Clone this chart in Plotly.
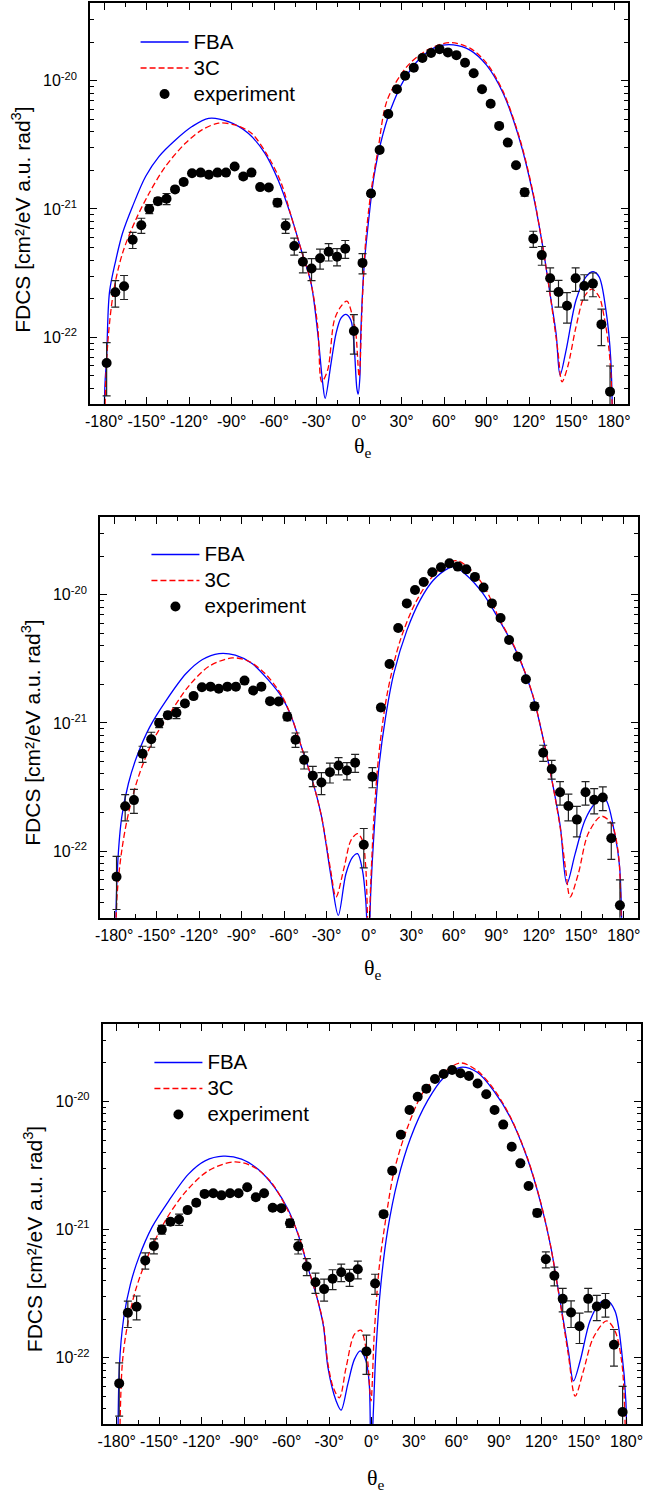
import plotly.graph_objects as go

# ---------------- experimental data (same in all three panels) ----------------
THETA_EXP = [-178.3, -172.2, -166.0, -159.9, -153.8, -148.2, -142.1, -136.0, -130.0, -123.9,
             -118.0, -111.9, -106.1, -100.0, -94.0, -87.9, -81.8, -76.0, -69.9, -63.8,
             -57.7, -51.9, -45.8, -39.7, -33.6, -27.6, -21.5, -15.6, -9.8, -3.7,
             2.4, 8.4, 14.5, 20.6, 26.7, 32.5, 38.6, 44.7, 50.8, 56.8,
             62.7, 68.7, 74.8, 80.9, 86.8, 92.9, 98.9, 105.0, 110.8, 116.9,
             123.0, 129.0, 134.9, 140.8, 146.8, 152.9, 159.0, 165.1, 171.1, 177.2]
FDCS_EXP = [6.3e-23, 2.24e-22, 2.5e-22, 5.75e-22, 7.46e-22, 1.0e-21, 1.15e-21, 1.2e-21, 1.42e-21, 1.62e-21,
            1.9e-21, 1.92e-21, 1.85e-21, 1.92e-21, 1.92e-21, 2.14e-21, 1.79e-21, 1.92e-21, 1.48e-21, 1.47e-21,
            1.12e-21, 7.4e-22, 5.15e-22, 3.88e-22, 3.43e-22, 4.13e-22, 4.65e-22, 4.25e-22, 4.9e-22, 1.12e-22,
            3.8e-22, 1.32e-21, 2.88e-21, 5.5e-21, 8.57e-21, 1.09e-20, 1.26e-20, 1.5e-20, 1.64e-20, 1.76e-20,
            1.66e-20, 1.58e-20, 1.38e-20, 1.14e-20, 8.57e-21, 6.6e-21, 4.44e-21, 3.29e-21, 2.19e-21, 1.35e-21,
            5.86e-22, 4.37e-22, 2.88e-22, 2.25e-22, 1.76e-22, 2.88e-22, 2.51e-22, 2.62e-22, 1.26e-22, 3.77e-23]
ERR_EXP = [2.8e-23, 5.2e-23, 5.3e-23, 8.3e-23, 1.0e-22, 8.0e-23, 7.0e-23, 1.2e-22, 7.0e-23, 8.0e-23,
           6.0e-23, 6.0e-23, 6.0e-23, 6.0e-23, 6.0e-23, 7.0e-23, 9.0e-23, 6.0e-23, 6.0e-23, 6.0e-23,
           8.0e-23, 9.5e-23, 7.8e-23, 7.0e-23, 6.7e-23, 7.3e-23, 7.2e-23, 6.5e-23, 7.8e-23, 3.8e-23,
           6.8e-23, 7.0e-23, 9.0e-23, 1.6e-22, 2.5e-22, 3.0e-22, 3.5e-22, 4.0e-22, 4.5e-22, 5.0e-22,
           4.5e-22, 4.5e-22, 4.0e-22, 3.2e-22, 2.5e-22, 1.9e-22, 1.3e-22, 1.0e-22, 7.0e-23, 9.0e-23,
           8.4e-23, 7.3e-23, 6.0e-23, 5.3e-23, 4.7e-23, 6.0e-23, 5.6e-23, 5.5e-23, 4.0e-23, 2.2e-23]

# ---------------- panel 1 theory ----------------
FBA1_THETA = [-180.6, -179.6, -178.3, -176.3, -171.8, -167.1, -160.1, -150.8, -141.4, -129.7,
              -118.0, -106.3, -92.3, -78.3, -66.6, -57.2, -47.9, -40.9, -33.9, -29.2,
              -25.7, -24.0, -19.8, -16.3, -12.8, -9.3, -5.8, -3.5, -1.6, -0.7,
              0.5, 1.2, 3.5, 7.0, 10.5, 15.2, 22.2, 31.6, 43.3, 55.0,
              66.6, 78.3, 90.0, 101.7, 113.4, 122.7, 129.7, 134.4, 139.1, 141.9,
              146.2, 153.2, 160.2, 165.3, 169.5, 174.2, 177.7, 180.2]
FBA1 = [1e-24, 4.0e-23, 7.0e-23, 2.24e-22, 4.0e-22, 6.46e-22, 1.04e-21, 1.79e-21, 2.56e-21, 3.45e-21,
        4.39e-21, 5.09e-21, 4.79e-21, 3.89e-21, 2.72e-21, 1.68e-21, 8.71e-22, 4.79e-22, 2.63e-22, 1.07e-22,
        4.37e-23, 3.34e-23, 6.3e-23, 1.07e-22, 1.41e-22, 1.51e-22, 1.36e-22, 8.5e-23, 4.0e-23, 3.6e-23,
        4.8e-23, 1.07e-22, 3.55e-22, 8.71e-22, 1.79e-21, 3.25e-21, 5.92e-21, 1.01e-20, 1.5e-20, 1.84e-20,
        1.9e-20, 1.73e-20, 1.32e-20, 7.98e-21, 3.45e-21, 1.32e-21, 5.08e-22, 2.34e-22, 1.07e-22, 5.08e-23,
        7.94e-23, 1.95e-22, 2.96e-22, 3.24e-22, 2.96e-22, 1.66e-22, 6.76e-23, 1e-24]
C3_1_THETA = [-180.3, -179.4, -177.5, -173.5, -167.1, -157.8, -148.4, -136.8, -122.7, -111.0,
              -99.3, -87.7, -76.0, -64.2, -54.9, -47.9, -40.9, -33.9, -29.2, -26.4,
              -22.2, -17.5, -12.8, -8.6, -4.6, -2.3, 0.0, 2.3, 4.7, 8.2,
              13.3, 19.9, 33.9, 48.0, 64.3, 78.3, 90.0, 101.7, 113.4, 122.7,
              129.7, 134.4, 140.3, 143.3, 147.3, 153.2, 159.0, 164.4, 169.5, 173.0,
              176.5, 178.6, 179.8]
C3_1 = [1e-24, 3.0e-23, 9.0e-23, 2.24e-22, 4.52e-22, 8.2e-22, 1.32e-21, 2.14e-21, 3.25e-21, 4.13e-21,
        4.66e-21, 4.52e-21, 3.89e-21, 2.56e-21, 1.58e-21, 8.71e-22, 4.79e-22, 2.63e-22, 1.2e-22, 4.5e-23,
        5.56e-23, 1.36e-22, 1.74e-22, 1.91e-22, 1.45e-22, 1.07e-22, 4.93e-23, 1.95e-22, 5.75e-22, 1.32e-21,
        2.88e-21, 7.08e-21, 1.29e-20, 1.73e-20, 1.98e-20, 1.79e-20, 1.37e-20, 8.22e-21, 3.55e-21, 1.36e-21,
        5.08e-22, 2.34e-22, 7.94e-23, 4.5e-23, 5.89e-23, 1.21e-22, 2.07e-22, 2.37e-22, 2.07e-22, 1.45e-22,
        7.94e-23, 3.2e-23, 1e-24]

# ---------------- panel 2 theory ----------------
FBA2_THETA = [-179.4, -178.5, -176.9, -174.6, -169.9, -164.1, -154.8, -143.2, -129.2, -117.6,
              -105.9, -94.4, -82.6, -71.0, -61.7, -54.7, -47.7, -40.7, -33.7, -26.8,
              -21.7, -16.3, -11.6, -8.1, -4.6, -2.3, -0.3, 1.2, 3.5, 7.0,
              11.7, 17.5, 26.8, 36.1, 45.4, 55.9, 60.0, 68.7, 80.3, 92.0,
              103.6, 115.2, 122.2, 129.2, 135.1, 139.7, 145.6, 152.5, 159.5, 166.5,
              173.5, 177.0, 179.5]
FBA2 = [1e-24, 4.0e-23, 1.01e-22, 1.85e-22, 3.37e-22, 5.42e-22, 9.31e-22, 1.5e-21, 2.43e-21, 3.13e-21,
        3.48e-21, 3.38e-21, 2.91e-21, 2.16e-21, 1.6e-21, 1.11e-21, 6.49e-22, 3.78e-22, 1.9e-22, 6.3e-23,
        3.15e-23, 6.65e-23, 8.97e-23, 9.55e-23, 7.08e-23, 4.12e-23, 1.5e-23, 4.68e-23, 1.37e-22, 4.53e-22,
        1.11e-21, 2.43e-21, 5.3e-21, 9.1e-21, 1.3e-20, 1.61e-20, 1.66e-20, 1.43e-20, 1.03e-20, 6.34e-21,
        3.7e-21, 1.7e-21, 8.26e-22, 3.56e-22, 1.55e-22, 5.56e-23, 9.55e-23, 1.74e-22, 2.34e-22, 2.57e-22,
        1.37e-22, 7.5e-23, 1e-24]
C3_2_THETA = [-179.5, -178.1, -174.6, -169.9, -162.9, -152.4, -140.8, -126.8, -112.9, -96.6,
              -85.0, -73.4, -61.7, -54.7, -47.7, -40.7, -33.7, -27.0, -23.3, -17.5,
              -12.8, -8.1, -4.6, -2.3, -0.4, 1.2, 3.5, 7.0, 12.9, 22.1,
              33.8, 47.8, 61.7, 73.3, 82.7, 92.0, 103.6, 115.2, 122.2, 129.2,
              135.1, 139.0, 142.0, 147.8, 154.8, 164.1, 171.1, 175.8, 178.1, 179.3]
C3_2 = [1e-24, 4.12e-23, 1.01e-22, 1.96e-22, 3.78e-22, 7.33e-22, 1.18e-21, 1.97e-21, 2.77e-21, 3.22e-21,
        3.03e-21, 2.43e-21, 1.64e-21, 1.11e-21, 6.49e-22, 3.78e-22, 1.9e-22, 7.0e-23, 4.38e-23, 7.5e-23,
        1.21e-22, 1.37e-22, 1.21e-22, 7.5e-23, 2.0e-23, 5.56e-23, 1.85e-22, 5.75e-22, 1.7e-21, 4.43e-21,
        9.1e-21, 1.51e-20, 1.85e-20, 1.51e-20, 1.09e-20, 6.5e-21, 3.75e-21, 1.72e-21, 8.3e-22, 3.56e-22,
        1.5e-22, 7.0e-23, 4.38e-23, 6.65e-23, 1.37e-22, 1.87e-22, 1.64e-22, 1.01e-22, 3.0e-23, 1e-24]

# ---------------- panel 3 theory ----------------
FBA3_THETA = [-179.3, -178.2, -175.1, -170.4, -164.5, -155.2, -143.4, -129.4, -117.7, -104.8,
              -91.9, -80.2, -68.5, -59.1, -52.0, -45.0, -38.0, -34.0, -30.9, -25.1,
              -21.6, -16.9, -12.2, -8.0, -4.0, -1.7, -0.5, 1.2, 3.0, 6.5,
              11.2, 18.3, 27.6, 39.4, 51.0, 62.8, 74.5, 86.2, 97.9, 109.7,
              119.0, 126.1, 133.1, 138.9, 142.5, 147.2, 154.2, 161.2, 165.9, 171.8,
              176.5, 179.5, 180.2]
FBA3 = [1e-24, 8.36e-23, 2.05e-22, 3.74e-22, 6.04e-22, 1.04e-21, 1.67e-21, 2.71e-21, 3.44e-21, 3.74e-21,
        3.55e-21, 2.96e-21, 2.13e-21, 1.44e-21, 9.2e-22, 5.05e-22, 2.77e-22, 1.75e-22, 8.4e-23, 4.59e-23,
        3.89e-23, 6.19e-23, 9.7e-23, 1.13e-22, 9.42e-23, 6.19e-23, 1.5e-23, 3.84e-23, 1.13e-22, 3.74e-22,
        9.77e-22, 2.4e-21, 5.24e-21, 1.01e-20, 1.54e-20, 1.85e-20, 1.69e-20, 1.21e-20, 7.5e-21, 3.65e-21,
        1.67e-21, 7.69e-22, 2.77e-22, 1.13e-22, 6.58e-23, 9.42e-23, 1.94e-22, 2.69e-22, 2.81e-22, 2.32e-22,
        1.13e-22, 4.59e-23, 1e-24]
C3_3_THETA = [-179.0, -176.3, -172.8, -166.9, -157.5, -145.8, -131.8, -115.3, -96.6, -82.5,
              -70.8, -61.5, -52.0, -45.0, -38.0, -34.0, -30.9, -27.0, -22.8, -18.1,
              -12.2, -7.5, -5.2, -2.8, -0.5, 1.8, 5.3, 10.1, 15.9, 25.3,
              37.0, 51.0, 62.8, 74.5, 86.2, 97.9, 109.7, 119.0, 126.1, 133.1,
              138.9, 143.7, 149.5, 156.5, 165.9, 171.8, 176.5, 179.0, 179.8]
C3_3 = [1e-24, 8.36e-23, 1.71e-22, 3.32e-22, 6.43e-22, 1.17e-21, 1.95e-21, 2.88e-21, 3.38e-21, 3.05e-21,
        2.33e-21, 1.58e-21, 9.3e-22, 5.1e-22, 2.8e-22, 1.8e-22, 9.0e-23, 5.8e-23, 4.86e-23, 8.36e-23,
        1.52e-22, 1.64e-22, 1.38e-22, 9.42e-23, 4.59e-23, 1.52e-22, 5.05e-22, 1.24e-21, 2.88e-21, 6.27e-21,
        1.21e-20, 1.69e-20, 2.0e-20, 1.74e-20, 1.25e-20, 7.6e-21, 3.7e-21, 1.69e-21, 7.7e-22, 2.7e-22,
        1.05e-22, 5.01e-23, 7.87e-23, 1.43e-22, 1.94e-22, 1.62e-22, 9.42e-23, 3.0e-23, 1e-24]

# ---------------- axis labels ----------------
X_TICKS = [-180, -150, -120, -90, -60, -30, 0, 30, 60, 90, 120, 150, 180]
X_TICKTEXT = ["-180°", "-150°", "-120°", "-90°", "-60°", "-30°", "0°", "30°", "60°", "90°", "120°", "150°", "180°"]
Y_TICKS = [1e-22, 1e-21, 1e-20]
Y_TICKTEXT = ["10<sup>-22</sup>", "10<sup>-21</sup>", "10<sup>-20</sup>"]
Y_TITLE = "FDCS [cm²/eV a.u. rad<sup>3</sup>]"
X_TITLE = "θ<sub>e</sub>"
LEGEND_NAMES = ["FBA", "3C", "experiment"]

SANS = "Liberation Sans, Arial, sans-serif"
SERIF = "Liberation Serif, Times New Roman, serif"
W, H = 645, 1494

panels = [
    dict(fba=(FBA1_THETA, FBA1), c3=(C3_1_THETA, C3_1),
         xdom=(86, 630), ydom=(3, 404), ytitle=(16, 220), xtitle_y=447, legend_top=24, legend_x=132),
    dict(fba=(FBA2_THETA, FBA2), c3=(C3_2_THETA, C3_2),
         xdom=(96, 640), ydom=(517.3, 917.7), ytitle=(26, 733), xtitle_y=969, legend_top=536.5, legend_x=143),
    dict(fba=(FBA3_THETA, FBA3), c3=(C3_3_THETA, C3_3),
         xdom=(98.7, 642.7), ydom=(1024, 1424.3), ytitle=(28, 1239.5), xtitle_y=1479, legend_top=1044.5, legend_x=146),
]


def big(s):
    return '<span style="font-size:20.5px">' + s + '</span>'


fig = go.Figure()
layout = dict(width=W, height=H, margin=dict(l=0, r=0, t=0, b=0),
              paper_bgcolor="white", plot_bgcolor="white",
              font=dict(family=SANS, color="black", size=16), annotations=[])

for i, p in enumerate(panels, start=1):
    sfx = "" if i == 1 else str(i)
    xa, ya, lg = "x" + sfx, "y" + sfx, "legend" + sfx
    fig.add_trace(go.Scatter(x=p["fba"][0], y=p["fba"][1], mode="lines", name=big(LEGEND_NAMES[0]),
                             line=dict(color="#0000ff", width=1.3, shape="spline", smoothing=0.9),
                             xaxis=xa, yaxis=ya, legend=lg))
    fig.add_trace(go.Scatter(x=p["c3"][0], y=p["c3"][1], mode="lines", name=big(LEGEND_NAMES[1]),
                             line=dict(color="#ff0000", width=1.3, dash="6px,3px", shape="spline", smoothing=0.9),
                             xaxis=xa, yaxis=ya, legend=lg))
    fig.add_trace(go.Scatter(x=THETA_EXP, y=FDCS_EXP, mode="markers", name=big(LEGEND_NAMES[2]),
                             marker=dict(color="black", size=10),
                             error_y=dict(type="data", array=ERR_EXP, visible=True, color="#222222",
                                          thickness=1.2, width=4),
                             xaxis=xa, yaxis=ya, legend=lg))

    x0, x1 = p["xdom"]
    yt, yb = p["ydom"]
    layout["xaxis" + sfx] = dict(
        domain=[x0 / W, x1 / W], anchor=ya, range=[-190, 190],
        tickmode="array", tickvals=X_TICKS, ticktext=X_TICKTEXT,
        ticks="inside", ticklen=7, tickwidth=1.2, tickcolor="black",
        minor=dict(ticks="inside", ticklen=4, tickwidth=1.2, tickcolor="black", dtick=15, tick0=0, showgrid=False),
        showline=True, linewidth=1.7, linecolor="black", mirror="ticks",
        showgrid=False, zeroline=False, tickfont=dict(size=16, family=SANS), ticklabelstandoff=2)
    layout["yaxis" + sfx] = dict(
        domain=[1 - yb / H, 1 - yt / H], anchor=xa, type="log", range=[-22.52, -19.395],
        tickmode="array", tickvals=Y_TICKS, ticktext=Y_TICKTEXT,
        ticks="inside", ticklen=7, tickwidth=1.2, tickcolor="black",
        minor=dict(ticks="inside", ticklen=4, tickwidth=1.2, tickcolor="black", dtick="D1", showgrid=False),
        showline=True, linewidth=1.7, linecolor="black", mirror="ticks",
        showgrid=False, zeroline=False, tickfont=dict(size=16, family=SANS), ticklabelstandoff=8)
    layout[lg] = dict(x=p["legend_x"] / W, y=1 - p["legend_top"] / H, xanchor="left", yanchor="top",
                      xref="paper", yref="paper",
                      font=dict(size=17.7, family=SANS, color="black"), bgcolor="rgba(0,0,0,0)",
                      itemwidth=48, tracegroupgap=0)
    layout["annotations"].append(dict(
        text=Y_TITLE, xref="paper", yref="paper", x=p["ytitle"][0] / W, y=1 - p["ytitle"][1] / H,
        xanchor="center", yanchor="middle", textangle=-90, showarrow=False,
        font=dict(size=21, family=SANS, color="black")))
    layout["annotations"].append(dict(
        text=X_TITLE, xref=xa, yref="paper", x=3, y=1 - p["xtitle_y"] / H,
        xanchor="center", yanchor="middle", showarrow=False,
        font=dict(size=22, family=SERIF, color="black")))

fig.update_layout(**layout)
fig.write_html("out.html", config={"displayModeBar": False},
               post_script="document.body.style.margin='0px';")
